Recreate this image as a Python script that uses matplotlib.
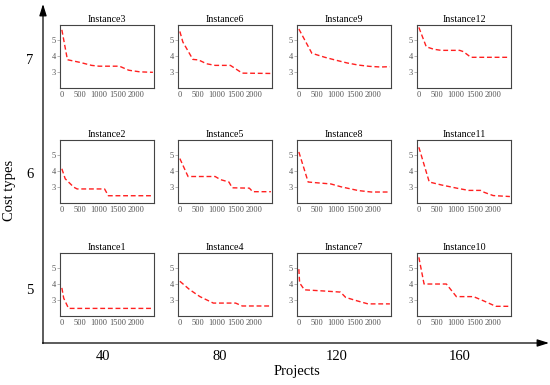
import matplotlib
matplotlib.use("Agg")
import matplotlib.pyplot as plt

plt.rcParams['font.family'] = ['Liberation Serif', 'DejaVu Serif']

# ---- data ----
row_labels = ["7", "6", "5"]
col_labels = ["40", "80", "120", "160"]
x_ticks = [0, 500, 1000, 1500, 2000]
y_ticks = [3, 4, 5]

inst_names = [["Instance3", "Instance6", "Instance9", "Instance12"],
              ["Instance2", "Instance5", "Instance8", "Instance11"],
              ["Instance1", "Instance4", "Instance7", "Instance10"]]

inst3_x = [0, 150, 500, 800, 1000, 1550, 1800, 2100, 2450]
inst3_y = [5.6, 3.75, 3.58, 3.4, 3.35, 3.35, 3.1, 3.0, 2.97]
inst6_x = [0, 80, 350, 500, 720, 950, 1360, 1680, 2450]
inst6_y = [5.5, 4.85, 3.77, 3.74, 3.5, 3.4, 3.4, 2.92, 2.9]
inst9_x = [0, 350, 700, 1000, 1300, 1600, 1900, 2200, 2450]
inst9_y = [5.65, 4.15, 3.9, 3.72, 3.55, 3.42, 3.34, 3.3, 3.32]
inst12_x = [0, 200, 400, 600, 1100, 1200, 1400, 2450]
inst12_y = [5.75, 4.55, 4.4, 4.33, 4.33, 4.25, 3.9, 3.9]

inst2_x = [0, 90, 320, 410, 1150, 1250, 2450]
inst2_y = [4.12, 3.5, 2.98, 2.87, 2.87, 2.45, 2.45]
inst5_x = [0, 220, 950, 1090, 1320, 1410, 1870, 1960, 2450]
inst5_y = [4.75, 3.64, 3.64, 3.45, 3.3, 2.94, 2.92, 2.7, 2.7]
inst8_x = [0, 250, 490, 860, 1140, 1600, 1950, 2450]
inst8_y = [5.16, 3.3, 3.25, 3.18, 3.0, 2.77, 2.68, 2.68]
inst11_x = [0, 280, 600, 1060, 1340, 1660, 1760, 2000, 2450]
inst11_y = [5.45, 3.3, 3.12, 2.9, 2.78, 2.78, 2.66, 2.46, 2.4]

inst1_x = [0, 50, 180, 2450]
inst1_y = [3.74, 3.1, 2.47, 2.47]
inst4_x = [0, 265, 540, 810, 900, 1500, 1680, 2450]
inst4_y = [4.15, 3.63, 3.2, 2.9, 2.8, 2.8, 2.62, 2.62]
inst7_x = [0, 20, 150, 660, 1120, 1260, 1580, 1860, 2450]
inst7_y = [4.9, 4.05, 3.62, 3.55, 3.48, 3.15, 2.93, 2.75, 2.75]
inst10_x = [0, 140, 740, 1010, 1470, 1750, 2070, 2450]
inst10_y = [5.63, 3.98, 3.98, 3.2, 3.2, 2.93, 2.6, 2.6]

series = [[(inst3_x, inst3_y), (inst6_x, inst6_y), (inst9_x, inst9_y), (inst12_x, inst12_y)],
          [(inst2_x, inst2_y), (inst5_x, inst5_y), (inst8_x, inst8_y), (inst11_x, inst11_y)],
          [(inst1_x, inst1_y), (inst4_x, inst4_y), (inst7_x, inst7_y), (inst10_x, inst10_y)]]

# ---- layout ----
W, H = 550, 385
fig = plt.figure(figsize=(W / 100, H / 100), dpi=100)

bg = fig.add_axes([0, 0, 1, 1])
bg.set_xlim(0, W)
bg.set_ylim(H, 0)
bg.axis('off')

# outer arrows
bg.annotate("", xy=(43, 4), xytext=(43, 343.5),
            arrowprops=dict(arrowstyle="-|>,head_length=0.7,head_width=0.22", color="black", lw=0.9,
                            shrinkA=0, shrinkB=0))
bg.annotate("", xy=(549, 343), xytext=(42.5, 343),
            arrowprops=dict(arrowstyle="-|>,head_length=0.7,head_width=0.22", color="black", lw=0.9,
                            shrinkA=0, shrinkB=0))

col_left = [60, 178, 297, 417]
row_top = [25, 140, 253]
pw, ph = 94, 63
col_label_x = [103, 220, 337, 460]
row_label_y = [60, 175, 290]

for j, lab in enumerate(col_labels):
    bg.text(col_label_x[j], 357, lab, ha='center', va='center', fontsize=10.5)
for i, lab in enumerate(row_labels):
    bg.text(30, row_label_y[i], lab, ha='center', va='center', fontsize=10.5)
bg.text(297, 372, "Projects", ha='center', va='center', fontsize=10.5)
bg.text(10, 190, "Cost types", ha='center', va='center', fontsize=10.5, rotation=90)

for i in range(3):
    for j in range(4):
        l = col_left[j] / W
        b = 1 - (row_top[i] + ph) / H
        ax = fig.add_axes([l, b, pw / W, ph / H])
        xs, ys = series[i][j]
        ax.plot(xs, ys, color='#ff2020', ls=(0, (3.5, 2)), lw=1.0)
        ax.set_xlim(-50, 2480)
        ax.set_ylim(2.0, 5.9)
        ax.set_xticks(x_ticks)
        ax.set_yticks(y_ticks)
        ax.tick_params(labelsize=6.0, labelcolor='#555555', color='#999999',
                       length=2, width=0.5, pad=1)
        ax.tick_params(axis='x', length=0, pad=2)
        for s in ax.spines.values():
            s.set_color('#444444')
            s.set_linewidth(0.8)
        ax.set_title(inst_names[i][j], fontsize=7.2, pad=2)

fig.savefig("out.png", dpi=100)
